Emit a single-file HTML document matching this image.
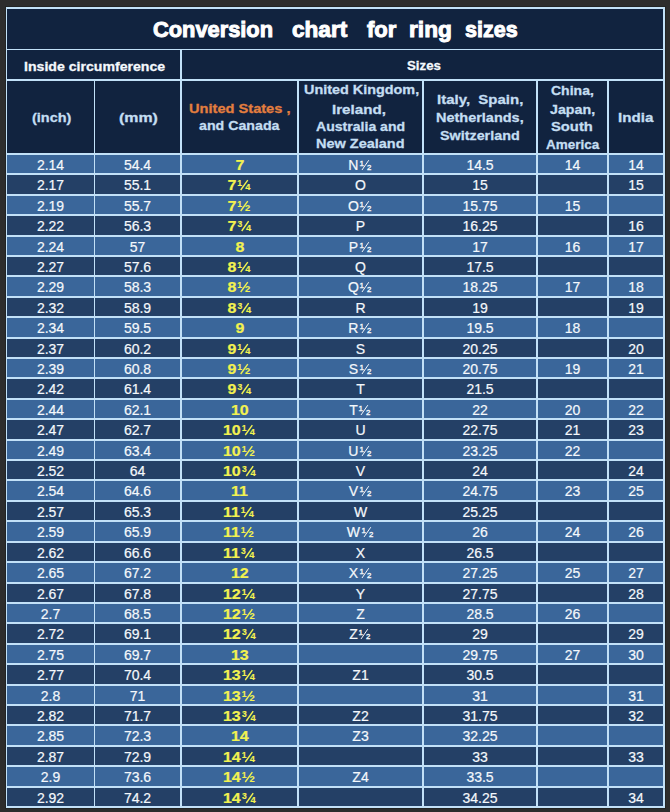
<!DOCTYPE html>
<html><head><meta charset="utf-8"><style>
html,body{margin:0;padding:0}
body{width:670px;height:812px;background:#2d2d2d;position:relative;overflow:hidden;font-family:"Liberation Sans",sans-serif}
.tb{position:absolute;left:6px;top:7px;width:659px;height:801px;background:#c2e1f8;box-shadow:0 0 0 1px #222424}
.c{position:absolute;display:flex;align-items:center;justify-content:center;text-align:center;white-space:nowrap}
.tx{position:absolute;white-space:nowrap;transform-origin:0 0;line-height:1}
.title{font-weight:bold;font-size:22.5px;color:#ffffff;-webkit-text-stroke:1.0px #ffffff}
.h2{font-weight:bold;font-size:13.5px;color:#f4f8fc;-webkit-text-stroke:0.3px #f4f8fc}
.h3{font-weight:bold;font-size:13.5px;color:#c4def2;-webkit-text-stroke:0.3px #c4def2}
.h3.us{-webkit-text-stroke-color:#e37e3e}
.h3.us{color:#e37e3e}
.d{font-size:14px;color:#f4f8fc;-webkit-text-stroke:0.2px #f4f8fc;position:relative;top:0.7px;left:0px}
.d.us{font-weight:bold;font-size:14px;color:#f2f250;-webkit-text-stroke:0.2px #f2f250;top:0.5px;display:inline-block;transform:scaleX(1.14)}
.fr{overflow:visible;vertical-align:baseline;margin-left:1.5px;fill:#f4f8fc;stroke:#f4f8fc}
.fr.b{margin-left:1.0px;fill:#f2f250;stroke:#f2f250}
.fr text{font-family:"Liberation Sans",sans-serif;stroke-width:0.35px}
.fr.b text{stroke-width:0.15px}
</style></head><body><div class="tb"></div>
<div class="c " style="left:7.00px;top:9.00px;width:656.00px;height:40.00px;background:#11233f"></div>
<div class="c " style="left:7.00px;top:50.00px;width:173.00px;height:29.00px;background:#11233f"></div>
<div class="c " style="left:182.00px;top:50.00px;width:481.00px;height:29.00px;background:#11233f"></div>
<div class="c " style="left:7.00px;top:81.00px;width:87.00px;height:72.00px;background:#11233f"></div>
<div class="c " style="left:95.00px;top:81.00px;width:85.00px;height:72.00px;background:#11233f"></div>
<div class="c " style="left:182.00px;top:81.00px;width:115.00px;height:72.00px;background:#11233f"></div>
<div class="c " style="left:299.00px;top:81.00px;width:123.00px;height:72.00px;background:#11233f"></div>
<div class="c " style="left:424.00px;top:81.00px;width:112.00px;height:72.00px;background:#11233f"></div>
<div class="c " style="left:538.00px;top:81.00px;width:69.00px;height:72.00px;background:#11233f"></div>
<div class="c " style="left:609.00px;top:81.00px;width:54.00px;height:72.00px;background:#11233f"></div>
<div class="c " style="left:7.00px;top:155.00px;width:87.00px;height:18.00px;background:#3a669a"><span class="d ">2.14</span></div>
<div class="c " style="left:95.00px;top:155.00px;width:85.00px;height:18.00px;background:#3a669a"><span class="d ">54.4</span></div>
<div class="c " style="left:182.00px;top:155.00px;width:115.00px;height:18.00px;background:#3a669a"><span class="d us">7</span></div>
<div class="c " style="left:299.00px;top:155.00px;width:123.00px;height:18.00px;background:#3a669a"><span class="d ">N<svg class="fr" width="12.70" height="10.0" viewBox="0 0 12.7 10.0" preserveAspectRatio="none"><text x="-0.62" y="5.90" font-size="8.1" font-weight="normal">1</text><line x1="2.0" y1="10.0" x2="8.8" y2="0.20" stroke-width="1.0"/><text x="7.11" y="10.0" font-size="7.8" font-weight="normal">2</text></svg></span></div>
<div class="c " style="left:424.00px;top:155.00px;width:112.00px;height:18.00px;background:#3a669a"><span class="d ">14.5</span></div>
<div class="c " style="left:538.00px;top:155.00px;width:69.00px;height:18.00px;background:#3a669a"><span class="d ">14</span></div>
<div class="c " style="left:609.00px;top:155.00px;width:54.00px;height:18.00px;background:#3a669a"><span class="d ">14</span></div>
<div class="c " style="left:7.00px;top:175.00px;width:87.00px;height:19.00px;background:#244066"><span class="d ">2.17</span></div>
<div class="c " style="left:95.00px;top:175.00px;width:85.00px;height:19.00px;background:#244066"><span class="d ">55.1</span></div>
<div class="c " style="left:182.00px;top:175.00px;width:115.00px;height:19.00px;background:#244066"><span class="d us">7<svg class="fr b" width="12.28" height="10.0" viewBox="0 0 14.0 10.0" preserveAspectRatio="none"><text x="-0.54" y="5.90" font-size="8.6" font-weight="bold">1</text><line x1="2.9" y1="10.0" x2="10.0" y2="0.10" stroke-width="1.4"/><text x="7.46" y="10.0" font-size="9.3" font-weight="bold">4</text></svg></span></div>
<div class="c " style="left:299.00px;top:175.00px;width:123.00px;height:19.00px;background:#244066"><span class="d ">O</span></div>
<div class="c " style="left:424.00px;top:175.00px;width:112.00px;height:19.00px;background:#244066"><span class="d ">15</span></div>
<div class="c " style="left:538.00px;top:175.00px;width:69.00px;height:19.00px;background:#244066"></div>
<div class="c " style="left:609.00px;top:175.00px;width:54.00px;height:19.00px;background:#244066"><span class="d ">15</span></div>
<div class="c " style="left:7.00px;top:196.00px;width:87.00px;height:18.00px;background:#3a669a"><span class="d ">2.19</span></div>
<div class="c " style="left:95.00px;top:196.00px;width:85.00px;height:18.00px;background:#3a669a"><span class="d ">55.7</span></div>
<div class="c " style="left:182.00px;top:196.00px;width:115.00px;height:18.00px;background:#3a669a"><span class="d us">7<svg class="fr b" width="12.28" height="10.0" viewBox="0 0 14.0 10.0" preserveAspectRatio="none"><text x="-0.54" y="5.90" font-size="8.6" font-weight="bold">1</text><line x1="2.9" y1="10.0" x2="10.0" y2="0.10" stroke-width="1.4"/><text x="7.28" y="10.0" font-size="9.3" font-weight="bold">2</text></svg></span></div>
<div class="c " style="left:299.00px;top:196.00px;width:123.00px;height:18.00px;background:#3a669a"><span class="d ">O<svg class="fr" width="12.70" height="10.0" viewBox="0 0 12.7 10.0" preserveAspectRatio="none"><text x="-0.62" y="5.90" font-size="8.1" font-weight="normal">1</text><line x1="2.0" y1="10.0" x2="8.8" y2="0.20" stroke-width="1.0"/><text x="7.11" y="10.0" font-size="7.8" font-weight="normal">2</text></svg></span></div>
<div class="c " style="left:424.00px;top:196.00px;width:112.00px;height:18.00px;background:#3a669a"><span class="d ">15.75</span></div>
<div class="c " style="left:538.00px;top:196.00px;width:69.00px;height:18.00px;background:#3a669a"><span class="d ">15</span></div>
<div class="c " style="left:609.00px;top:196.00px;width:54.00px;height:18.00px;background:#3a669a"></div>
<div class="c " style="left:7.00px;top:216.00px;width:87.00px;height:19.00px;background:#244066"><span class="d ">2.22</span></div>
<div class="c " style="left:95.00px;top:216.00px;width:85.00px;height:19.00px;background:#244066"><span class="d ">56.3</span></div>
<div class="c " style="left:182.00px;top:216.00px;width:115.00px;height:19.00px;background:#244066"><span class="d us">7<svg class="fr b" width="13.16" height="10.0" viewBox="0 0 15.0 10.0" preserveAspectRatio="none"><text x="-0.20" y="5.90" font-size="8.6" font-weight="bold">3</text><line x1="4.0" y1="10.0" x2="10.9" y2="0.10" stroke-width="1.4"/><text x="8.16" y="10.0" font-size="9.3" font-weight="bold">4</text></svg></span></div>
<div class="c " style="left:299.00px;top:216.00px;width:123.00px;height:19.00px;background:#244066"><span class="d ">P</span></div>
<div class="c " style="left:424.00px;top:216.00px;width:112.00px;height:19.00px;background:#244066"><span class="d ">16.25</span></div>
<div class="c " style="left:538.00px;top:216.00px;width:69.00px;height:19.00px;background:#244066"></div>
<div class="c " style="left:609.00px;top:216.00px;width:54.00px;height:19.00px;background:#244066"><span class="d ">16</span></div>
<div class="c " style="left:7.00px;top:237.00px;width:87.00px;height:18.00px;background:#3a669a"><span class="d ">2.24</span></div>
<div class="c " style="left:95.00px;top:237.00px;width:85.00px;height:18.00px;background:#3a669a"><span class="d ">57</span></div>
<div class="c " style="left:182.00px;top:237.00px;width:115.00px;height:18.00px;background:#3a669a"><span class="d us">8</span></div>
<div class="c " style="left:299.00px;top:237.00px;width:123.00px;height:18.00px;background:#3a669a"><span class="d ">P<svg class="fr" width="12.70" height="10.0" viewBox="0 0 12.7 10.0" preserveAspectRatio="none"><text x="-0.62" y="5.90" font-size="8.1" font-weight="normal">1</text><line x1="2.0" y1="10.0" x2="8.8" y2="0.20" stroke-width="1.0"/><text x="7.11" y="10.0" font-size="7.8" font-weight="normal">2</text></svg></span></div>
<div class="c " style="left:424.00px;top:237.00px;width:112.00px;height:18.00px;background:#3a669a"><span class="d ">17</span></div>
<div class="c " style="left:538.00px;top:237.00px;width:69.00px;height:18.00px;background:#3a669a"><span class="d ">16</span></div>
<div class="c " style="left:609.00px;top:237.00px;width:54.00px;height:18.00px;background:#3a669a"><span class="d ">17</span></div>
<div class="c " style="left:7.00px;top:257.00px;width:87.00px;height:18.00px;background:#244066"><span class="d ">2.27</span></div>
<div class="c " style="left:95.00px;top:257.00px;width:85.00px;height:18.00px;background:#244066"><span class="d ">57.6</span></div>
<div class="c " style="left:182.00px;top:257.00px;width:115.00px;height:18.00px;background:#244066"><span class="d us">8<svg class="fr b" width="12.28" height="10.0" viewBox="0 0 14.0 10.0" preserveAspectRatio="none"><text x="-0.54" y="5.90" font-size="8.6" font-weight="bold">1</text><line x1="2.9" y1="10.0" x2="10.0" y2="0.10" stroke-width="1.4"/><text x="7.46" y="10.0" font-size="9.3" font-weight="bold">4</text></svg></span></div>
<div class="c " style="left:299.00px;top:257.00px;width:123.00px;height:18.00px;background:#244066"><span class="d ">Q</span></div>
<div class="c " style="left:424.00px;top:257.00px;width:112.00px;height:18.00px;background:#244066"><span class="d ">17.5</span></div>
<div class="c " style="left:538.00px;top:257.00px;width:69.00px;height:18.00px;background:#244066"></div>
<div class="c " style="left:609.00px;top:257.00px;width:54.00px;height:18.00px;background:#244066"></div>
<div class="c " style="left:7.00px;top:277.00px;width:87.00px;height:19.00px;background:#3a669a"><span class="d ">2.29</span></div>
<div class="c " style="left:95.00px;top:277.00px;width:85.00px;height:19.00px;background:#3a669a"><span class="d ">58.3</span></div>
<div class="c " style="left:182.00px;top:277.00px;width:115.00px;height:19.00px;background:#3a669a"><span class="d us">8<svg class="fr b" width="12.28" height="10.0" viewBox="0 0 14.0 10.0" preserveAspectRatio="none"><text x="-0.54" y="5.90" font-size="8.6" font-weight="bold">1</text><line x1="2.9" y1="10.0" x2="10.0" y2="0.10" stroke-width="1.4"/><text x="7.28" y="10.0" font-size="9.3" font-weight="bold">2</text></svg></span></div>
<div class="c " style="left:299.00px;top:277.00px;width:123.00px;height:19.00px;background:#3a669a"><span class="d ">Q<svg class="fr" width="12.70" height="10.0" viewBox="0 0 12.7 10.0" preserveAspectRatio="none"><text x="-0.62" y="5.90" font-size="8.1" font-weight="normal">1</text><line x1="2.0" y1="10.0" x2="8.8" y2="0.20" stroke-width="1.0"/><text x="7.11" y="10.0" font-size="7.8" font-weight="normal">2</text></svg></span></div>
<div class="c " style="left:424.00px;top:277.00px;width:112.00px;height:19.00px;background:#3a669a"><span class="d ">18.25</span></div>
<div class="c " style="left:538.00px;top:277.00px;width:69.00px;height:19.00px;background:#3a669a"><span class="d ">17</span></div>
<div class="c " style="left:609.00px;top:277.00px;width:54.00px;height:19.00px;background:#3a669a"><span class="d ">18</span></div>
<div class="c " style="left:7.00px;top:298.00px;width:87.00px;height:18.00px;background:#244066"><span class="d ">2.32</span></div>
<div class="c " style="left:95.00px;top:298.00px;width:85.00px;height:18.00px;background:#244066"><span class="d ">58.9</span></div>
<div class="c " style="left:182.00px;top:298.00px;width:115.00px;height:18.00px;background:#244066"><span class="d us">8<svg class="fr b" width="13.16" height="10.0" viewBox="0 0 15.0 10.0" preserveAspectRatio="none"><text x="-0.20" y="5.90" font-size="8.6" font-weight="bold">3</text><line x1="4.0" y1="10.0" x2="10.9" y2="0.10" stroke-width="1.4"/><text x="8.16" y="10.0" font-size="9.3" font-weight="bold">4</text></svg></span></div>
<div class="c " style="left:299.00px;top:298.00px;width:123.00px;height:18.00px;background:#244066"><span class="d ">R</span></div>
<div class="c " style="left:424.00px;top:298.00px;width:112.00px;height:18.00px;background:#244066"><span class="d ">19</span></div>
<div class="c " style="left:538.00px;top:298.00px;width:69.00px;height:18.00px;background:#244066"></div>
<div class="c " style="left:609.00px;top:298.00px;width:54.00px;height:18.00px;background:#244066"><span class="d ">19</span></div>
<div class="c " style="left:7.00px;top:318.00px;width:87.00px;height:19.00px;background:#3a669a"><span class="d ">2.34</span></div>
<div class="c " style="left:95.00px;top:318.00px;width:85.00px;height:19.00px;background:#3a669a"><span class="d ">59.5</span></div>
<div class="c " style="left:182.00px;top:318.00px;width:115.00px;height:19.00px;background:#3a669a"><span class="d us">9</span></div>
<div class="c " style="left:299.00px;top:318.00px;width:123.00px;height:19.00px;background:#3a669a"><span class="d ">R<svg class="fr" width="12.70" height="10.0" viewBox="0 0 12.7 10.0" preserveAspectRatio="none"><text x="-0.62" y="5.90" font-size="8.1" font-weight="normal">1</text><line x1="2.0" y1="10.0" x2="8.8" y2="0.20" stroke-width="1.0"/><text x="7.11" y="10.0" font-size="7.8" font-weight="normal">2</text></svg></span></div>
<div class="c " style="left:424.00px;top:318.00px;width:112.00px;height:19.00px;background:#3a669a"><span class="d ">19.5</span></div>
<div class="c " style="left:538.00px;top:318.00px;width:69.00px;height:19.00px;background:#3a669a"><span class="d ">18</span></div>
<div class="c " style="left:609.00px;top:318.00px;width:54.00px;height:19.00px;background:#3a669a"></div>
<div class="c " style="left:7.00px;top:339.00px;width:87.00px;height:18.00px;background:#244066"><span class="d ">2.37</span></div>
<div class="c " style="left:95.00px;top:339.00px;width:85.00px;height:18.00px;background:#244066"><span class="d ">60.2</span></div>
<div class="c " style="left:182.00px;top:339.00px;width:115.00px;height:18.00px;background:#244066"><span class="d us">9<svg class="fr b" width="12.28" height="10.0" viewBox="0 0 14.0 10.0" preserveAspectRatio="none"><text x="-0.54" y="5.90" font-size="8.6" font-weight="bold">1</text><line x1="2.9" y1="10.0" x2="10.0" y2="0.10" stroke-width="1.4"/><text x="7.46" y="10.0" font-size="9.3" font-weight="bold">4</text></svg></span></div>
<div class="c " style="left:299.00px;top:339.00px;width:123.00px;height:18.00px;background:#244066"><span class="d ">S</span></div>
<div class="c " style="left:424.00px;top:339.00px;width:112.00px;height:18.00px;background:#244066"><span class="d ">20.25</span></div>
<div class="c " style="left:538.00px;top:339.00px;width:69.00px;height:18.00px;background:#244066"></div>
<div class="c " style="left:609.00px;top:339.00px;width:54.00px;height:18.00px;background:#244066"><span class="d ">20</span></div>
<div class="c " style="left:7.00px;top:359.00px;width:87.00px;height:18.00px;background:#3a669a"><span class="d ">2.39</span></div>
<div class="c " style="left:95.00px;top:359.00px;width:85.00px;height:18.00px;background:#3a669a"><span class="d ">60.8</span></div>
<div class="c " style="left:182.00px;top:359.00px;width:115.00px;height:18.00px;background:#3a669a"><span class="d us">9<svg class="fr b" width="12.28" height="10.0" viewBox="0 0 14.0 10.0" preserveAspectRatio="none"><text x="-0.54" y="5.90" font-size="8.6" font-weight="bold">1</text><line x1="2.9" y1="10.0" x2="10.0" y2="0.10" stroke-width="1.4"/><text x="7.28" y="10.0" font-size="9.3" font-weight="bold">2</text></svg></span></div>
<div class="c " style="left:299.00px;top:359.00px;width:123.00px;height:18.00px;background:#3a669a"><span class="d ">S<svg class="fr" width="12.70" height="10.0" viewBox="0 0 12.7 10.0" preserveAspectRatio="none"><text x="-0.62" y="5.90" font-size="8.1" font-weight="normal">1</text><line x1="2.0" y1="10.0" x2="8.8" y2="0.20" stroke-width="1.0"/><text x="7.11" y="10.0" font-size="7.8" font-weight="normal">2</text></svg></span></div>
<div class="c " style="left:424.00px;top:359.00px;width:112.00px;height:18.00px;background:#3a669a"><span class="d ">20.75</span></div>
<div class="c " style="left:538.00px;top:359.00px;width:69.00px;height:18.00px;background:#3a669a"><span class="d ">19</span></div>
<div class="c " style="left:609.00px;top:359.00px;width:54.00px;height:18.00px;background:#3a669a"><span class="d ">21</span></div>
<div class="c " style="left:7.00px;top:379.00px;width:87.00px;height:19.00px;background:#244066"><span class="d ">2.42</span></div>
<div class="c " style="left:95.00px;top:379.00px;width:85.00px;height:19.00px;background:#244066"><span class="d ">61.4</span></div>
<div class="c " style="left:182.00px;top:379.00px;width:115.00px;height:19.00px;background:#244066"><span class="d us">9<svg class="fr b" width="13.16" height="10.0" viewBox="0 0 15.0 10.0" preserveAspectRatio="none"><text x="-0.20" y="5.90" font-size="8.6" font-weight="bold">3</text><line x1="4.0" y1="10.0" x2="10.9" y2="0.10" stroke-width="1.4"/><text x="8.16" y="10.0" font-size="9.3" font-weight="bold">4</text></svg></span></div>
<div class="c " style="left:299.00px;top:379.00px;width:123.00px;height:19.00px;background:#244066"><span class="d ">T</span></div>
<div class="c " style="left:424.00px;top:379.00px;width:112.00px;height:19.00px;background:#244066"><span class="d ">21.5</span></div>
<div class="c " style="left:538.00px;top:379.00px;width:69.00px;height:19.00px;background:#244066"></div>
<div class="c " style="left:609.00px;top:379.00px;width:54.00px;height:19.00px;background:#244066"></div>
<div class="c " style="left:7.00px;top:400.00px;width:87.00px;height:18.00px;background:#3a669a"><span class="d ">2.44</span></div>
<div class="c " style="left:95.00px;top:400.00px;width:85.00px;height:18.00px;background:#3a669a"><span class="d ">62.1</span></div>
<div class="c " style="left:182.00px;top:400.00px;width:115.00px;height:18.00px;background:#3a669a"><span class="d us">10</span></div>
<div class="c " style="left:299.00px;top:400.00px;width:123.00px;height:18.00px;background:#3a669a"><span class="d ">T<svg class="fr" width="12.70" height="10.0" viewBox="0 0 12.7 10.0" preserveAspectRatio="none"><text x="-0.62" y="5.90" font-size="8.1" font-weight="normal">1</text><line x1="2.0" y1="10.0" x2="8.8" y2="0.20" stroke-width="1.0"/><text x="7.11" y="10.0" font-size="7.8" font-weight="normal">2</text></svg></span></div>
<div class="c " style="left:424.00px;top:400.00px;width:112.00px;height:18.00px;background:#3a669a"><span class="d ">22</span></div>
<div class="c " style="left:538.00px;top:400.00px;width:69.00px;height:18.00px;background:#3a669a"><span class="d ">20</span></div>
<div class="c " style="left:609.00px;top:400.00px;width:54.00px;height:18.00px;background:#3a669a"><span class="d ">22</span></div>
<div class="c " style="left:7.00px;top:420.00px;width:87.00px;height:19.00px;background:#244066"><span class="d ">2.47</span></div>
<div class="c " style="left:95.00px;top:420.00px;width:85.00px;height:19.00px;background:#244066"><span class="d ">62.7</span></div>
<div class="c " style="left:182.00px;top:420.00px;width:115.00px;height:19.00px;background:#244066"><span class="d us">10<svg class="fr b" width="12.28" height="10.0" viewBox="0 0 14.0 10.0" preserveAspectRatio="none"><text x="-0.54" y="5.90" font-size="8.6" font-weight="bold">1</text><line x1="2.9" y1="10.0" x2="10.0" y2="0.10" stroke-width="1.4"/><text x="7.46" y="10.0" font-size="9.3" font-weight="bold">4</text></svg></span></div>
<div class="c " style="left:299.00px;top:420.00px;width:123.00px;height:19.00px;background:#244066"><span class="d ">U</span></div>
<div class="c " style="left:424.00px;top:420.00px;width:112.00px;height:19.00px;background:#244066"><span class="d ">22.75</span></div>
<div class="c " style="left:538.00px;top:420.00px;width:69.00px;height:19.00px;background:#244066"><span class="d ">21</span></div>
<div class="c " style="left:609.00px;top:420.00px;width:54.00px;height:19.00px;background:#244066"><span class="d ">23</span></div>
<div class="c " style="left:7.00px;top:441.00px;width:87.00px;height:18.00px;background:#3a669a"><span class="d ">2.49</span></div>
<div class="c " style="left:95.00px;top:441.00px;width:85.00px;height:18.00px;background:#3a669a"><span class="d ">63.4</span></div>
<div class="c " style="left:182.00px;top:441.00px;width:115.00px;height:18.00px;background:#3a669a"><span class="d us">10<svg class="fr b" width="12.28" height="10.0" viewBox="0 0 14.0 10.0" preserveAspectRatio="none"><text x="-0.54" y="5.90" font-size="8.6" font-weight="bold">1</text><line x1="2.9" y1="10.0" x2="10.0" y2="0.10" stroke-width="1.4"/><text x="7.28" y="10.0" font-size="9.3" font-weight="bold">2</text></svg></span></div>
<div class="c " style="left:299.00px;top:441.00px;width:123.00px;height:18.00px;background:#3a669a"><span class="d ">U<svg class="fr" width="12.70" height="10.0" viewBox="0 0 12.7 10.0" preserveAspectRatio="none"><text x="-0.62" y="5.90" font-size="8.1" font-weight="normal">1</text><line x1="2.0" y1="10.0" x2="8.8" y2="0.20" stroke-width="1.0"/><text x="7.11" y="10.0" font-size="7.8" font-weight="normal">2</text></svg></span></div>
<div class="c " style="left:424.00px;top:441.00px;width:112.00px;height:18.00px;background:#3a669a"><span class="d ">23.25</span></div>
<div class="c " style="left:538.00px;top:441.00px;width:69.00px;height:18.00px;background:#3a669a"><span class="d ">22</span></div>
<div class="c " style="left:609.00px;top:441.00px;width:54.00px;height:18.00px;background:#3a669a"></div>
<div class="c " style="left:7.00px;top:461.00px;width:87.00px;height:18.00px;background:#244066"><span class="d ">2.52</span></div>
<div class="c " style="left:95.00px;top:461.00px;width:85.00px;height:18.00px;background:#244066"><span class="d ">64</span></div>
<div class="c " style="left:182.00px;top:461.00px;width:115.00px;height:18.00px;background:#244066"><span class="d us">10<svg class="fr b" width="13.16" height="10.0" viewBox="0 0 15.0 10.0" preserveAspectRatio="none"><text x="-0.20" y="5.90" font-size="8.6" font-weight="bold">3</text><line x1="4.0" y1="10.0" x2="10.9" y2="0.10" stroke-width="1.4"/><text x="8.16" y="10.0" font-size="9.3" font-weight="bold">4</text></svg></span></div>
<div class="c " style="left:299.00px;top:461.00px;width:123.00px;height:18.00px;background:#244066"><span class="d ">V</span></div>
<div class="c " style="left:424.00px;top:461.00px;width:112.00px;height:18.00px;background:#244066"><span class="d ">24</span></div>
<div class="c " style="left:538.00px;top:461.00px;width:69.00px;height:18.00px;background:#244066"></div>
<div class="c " style="left:609.00px;top:461.00px;width:54.00px;height:18.00px;background:#244066"><span class="d ">24</span></div>
<div class="c " style="left:7.00px;top:481.00px;width:87.00px;height:19.00px;background:#3a669a"><span class="d ">2.54</span></div>
<div class="c " style="left:95.00px;top:481.00px;width:85.00px;height:19.00px;background:#3a669a"><span class="d ">64.6</span></div>
<div class="c " style="left:182.00px;top:481.00px;width:115.00px;height:19.00px;background:#3a669a"><span class="d us">11</span></div>
<div class="c " style="left:299.00px;top:481.00px;width:123.00px;height:19.00px;background:#3a669a"><span class="d ">V<svg class="fr" width="12.70" height="10.0" viewBox="0 0 12.7 10.0" preserveAspectRatio="none"><text x="-0.62" y="5.90" font-size="8.1" font-weight="normal">1</text><line x1="2.0" y1="10.0" x2="8.8" y2="0.20" stroke-width="1.0"/><text x="7.11" y="10.0" font-size="7.8" font-weight="normal">2</text></svg></span></div>
<div class="c " style="left:424.00px;top:481.00px;width:112.00px;height:19.00px;background:#3a669a"><span class="d ">24.75</span></div>
<div class="c " style="left:538.00px;top:481.00px;width:69.00px;height:19.00px;background:#3a669a"><span class="d ">23</span></div>
<div class="c " style="left:609.00px;top:481.00px;width:54.00px;height:19.00px;background:#3a669a"><span class="d ">25</span></div>
<div class="c " style="left:7.00px;top:502.00px;width:87.00px;height:18.00px;background:#244066"><span class="d ">2.57</span></div>
<div class="c " style="left:95.00px;top:502.00px;width:85.00px;height:18.00px;background:#244066"><span class="d ">65.3</span></div>
<div class="c " style="left:182.00px;top:502.00px;width:115.00px;height:18.00px;background:#244066"><span class="d us">11<svg class="fr b" width="12.28" height="10.0" viewBox="0 0 14.0 10.0" preserveAspectRatio="none"><text x="-0.54" y="5.90" font-size="8.6" font-weight="bold">1</text><line x1="2.9" y1="10.0" x2="10.0" y2="0.10" stroke-width="1.4"/><text x="7.46" y="10.0" font-size="9.3" font-weight="bold">4</text></svg></span></div>
<div class="c " style="left:299.00px;top:502.00px;width:123.00px;height:18.00px;background:#244066"><span class="d ">W</span></div>
<div class="c " style="left:424.00px;top:502.00px;width:112.00px;height:18.00px;background:#244066"><span class="d ">25.25</span></div>
<div class="c " style="left:538.00px;top:502.00px;width:69.00px;height:18.00px;background:#244066"></div>
<div class="c " style="left:609.00px;top:502.00px;width:54.00px;height:18.00px;background:#244066"></div>
<div class="c " style="left:7.00px;top:522.00px;width:87.00px;height:19.00px;background:#3a669a"><span class="d ">2.59</span></div>
<div class="c " style="left:95.00px;top:522.00px;width:85.00px;height:19.00px;background:#3a669a"><span class="d ">65.9</span></div>
<div class="c " style="left:182.00px;top:522.00px;width:115.00px;height:19.00px;background:#3a669a"><span class="d us">11<svg class="fr b" width="12.28" height="10.0" viewBox="0 0 14.0 10.0" preserveAspectRatio="none"><text x="-0.54" y="5.90" font-size="8.6" font-weight="bold">1</text><line x1="2.9" y1="10.0" x2="10.0" y2="0.10" stroke-width="1.4"/><text x="7.28" y="10.0" font-size="9.3" font-weight="bold">2</text></svg></span></div>
<div class="c " style="left:299.00px;top:522.00px;width:123.00px;height:19.00px;background:#3a669a"><span class="d ">W<svg class="fr" width="12.70" height="10.0" viewBox="0 0 12.7 10.0" preserveAspectRatio="none"><text x="-0.62" y="5.90" font-size="8.1" font-weight="normal">1</text><line x1="2.0" y1="10.0" x2="8.8" y2="0.20" stroke-width="1.0"/><text x="7.11" y="10.0" font-size="7.8" font-weight="normal">2</text></svg></span></div>
<div class="c " style="left:424.00px;top:522.00px;width:112.00px;height:19.00px;background:#3a669a"><span class="d ">26</span></div>
<div class="c " style="left:538.00px;top:522.00px;width:69.00px;height:19.00px;background:#3a669a"><span class="d ">24</span></div>
<div class="c " style="left:609.00px;top:522.00px;width:54.00px;height:19.00px;background:#3a669a"><span class="d ">26</span></div>
<div class="c " style="left:7.00px;top:543.00px;width:87.00px;height:18.00px;background:#244066"><span class="d ">2.62</span></div>
<div class="c " style="left:95.00px;top:543.00px;width:85.00px;height:18.00px;background:#244066"><span class="d ">66.6</span></div>
<div class="c " style="left:182.00px;top:543.00px;width:115.00px;height:18.00px;background:#244066"><span class="d us">11<svg class="fr b" width="13.16" height="10.0" viewBox="0 0 15.0 10.0" preserveAspectRatio="none"><text x="-0.20" y="5.90" font-size="8.6" font-weight="bold">3</text><line x1="4.0" y1="10.0" x2="10.9" y2="0.10" stroke-width="1.4"/><text x="8.16" y="10.0" font-size="9.3" font-weight="bold">4</text></svg></span></div>
<div class="c " style="left:299.00px;top:543.00px;width:123.00px;height:18.00px;background:#244066"><span class="d ">X</span></div>
<div class="c " style="left:424.00px;top:543.00px;width:112.00px;height:18.00px;background:#244066"><span class="d ">26.5</span></div>
<div class="c " style="left:538.00px;top:543.00px;width:69.00px;height:18.00px;background:#244066"></div>
<div class="c " style="left:609.00px;top:543.00px;width:54.00px;height:18.00px;background:#244066"></div>
<div class="c " style="left:7.00px;top:563.00px;width:87.00px;height:19.00px;background:#3a669a"><span class="d ">2.65</span></div>
<div class="c " style="left:95.00px;top:563.00px;width:85.00px;height:19.00px;background:#3a669a"><span class="d ">67.2</span></div>
<div class="c " style="left:182.00px;top:563.00px;width:115.00px;height:19.00px;background:#3a669a"><span class="d us">12</span></div>
<div class="c " style="left:299.00px;top:563.00px;width:123.00px;height:19.00px;background:#3a669a"><span class="d ">X<svg class="fr" width="12.70" height="10.0" viewBox="0 0 12.7 10.0" preserveAspectRatio="none"><text x="-0.62" y="5.90" font-size="8.1" font-weight="normal">1</text><line x1="2.0" y1="10.0" x2="8.8" y2="0.20" stroke-width="1.0"/><text x="7.11" y="10.0" font-size="7.8" font-weight="normal">2</text></svg></span></div>
<div class="c " style="left:424.00px;top:563.00px;width:112.00px;height:19.00px;background:#3a669a"><span class="d ">27.25</span></div>
<div class="c " style="left:538.00px;top:563.00px;width:69.00px;height:19.00px;background:#3a669a"><span class="d ">25</span></div>
<div class="c " style="left:609.00px;top:563.00px;width:54.00px;height:19.00px;background:#3a669a"><span class="d ">27</span></div>
<div class="c " style="left:7.00px;top:584.00px;width:87.00px;height:18.00px;background:#244066"><span class="d ">2.67</span></div>
<div class="c " style="left:95.00px;top:584.00px;width:85.00px;height:18.00px;background:#244066"><span class="d ">67.8</span></div>
<div class="c " style="left:182.00px;top:584.00px;width:115.00px;height:18.00px;background:#244066"><span class="d us">12<svg class="fr b" width="12.28" height="10.0" viewBox="0 0 14.0 10.0" preserveAspectRatio="none"><text x="-0.54" y="5.90" font-size="8.6" font-weight="bold">1</text><line x1="2.9" y1="10.0" x2="10.0" y2="0.10" stroke-width="1.4"/><text x="7.46" y="10.0" font-size="9.3" font-weight="bold">4</text></svg></span></div>
<div class="c " style="left:299.00px;top:584.00px;width:123.00px;height:18.00px;background:#244066"><span class="d ">Y</span></div>
<div class="c " style="left:424.00px;top:584.00px;width:112.00px;height:18.00px;background:#244066"><span class="d ">27.75</span></div>
<div class="c " style="left:538.00px;top:584.00px;width:69.00px;height:18.00px;background:#244066"></div>
<div class="c " style="left:609.00px;top:584.00px;width:54.00px;height:18.00px;background:#244066"><span class="d ">28</span></div>
<div class="c " style="left:7.00px;top:604.00px;width:87.00px;height:18.00px;background:#3a669a"><span class="d ">2.7</span></div>
<div class="c " style="left:95.00px;top:604.00px;width:85.00px;height:18.00px;background:#3a669a"><span class="d ">68.5</span></div>
<div class="c " style="left:182.00px;top:604.00px;width:115.00px;height:18.00px;background:#3a669a"><span class="d us">12<svg class="fr b" width="12.28" height="10.0" viewBox="0 0 14.0 10.0" preserveAspectRatio="none"><text x="-0.54" y="5.90" font-size="8.6" font-weight="bold">1</text><line x1="2.9" y1="10.0" x2="10.0" y2="0.10" stroke-width="1.4"/><text x="7.28" y="10.0" font-size="9.3" font-weight="bold">2</text></svg></span></div>
<div class="c " style="left:299.00px;top:604.00px;width:123.00px;height:18.00px;background:#3a669a"><span class="d ">Z</span></div>
<div class="c " style="left:424.00px;top:604.00px;width:112.00px;height:18.00px;background:#3a669a"><span class="d ">28.5</span></div>
<div class="c " style="left:538.00px;top:604.00px;width:69.00px;height:18.00px;background:#3a669a"><span class="d ">26</span></div>
<div class="c " style="left:609.00px;top:604.00px;width:54.00px;height:18.00px;background:#3a669a"></div>
<div class="c " style="left:7.00px;top:624.00px;width:87.00px;height:19.00px;background:#244066"><span class="d ">2.72</span></div>
<div class="c " style="left:95.00px;top:624.00px;width:85.00px;height:19.00px;background:#244066"><span class="d ">69.1</span></div>
<div class="c " style="left:182.00px;top:624.00px;width:115.00px;height:19.00px;background:#244066"><span class="d us">12<svg class="fr b" width="13.16" height="10.0" viewBox="0 0 15.0 10.0" preserveAspectRatio="none"><text x="-0.20" y="5.90" font-size="8.6" font-weight="bold">3</text><line x1="4.0" y1="10.0" x2="10.9" y2="0.10" stroke-width="1.4"/><text x="8.16" y="10.0" font-size="9.3" font-weight="bold">4</text></svg></span></div>
<div class="c " style="left:299.00px;top:624.00px;width:123.00px;height:19.00px;background:#244066"><span class="d ">Z<svg class="fr" width="12.70" height="10.0" viewBox="0 0 12.7 10.0" preserveAspectRatio="none"><text x="-0.62" y="5.90" font-size="8.1" font-weight="normal">1</text><line x1="2.0" y1="10.0" x2="8.8" y2="0.20" stroke-width="1.0"/><text x="7.11" y="10.0" font-size="7.8" font-weight="normal">2</text></svg></span></div>
<div class="c " style="left:424.00px;top:624.00px;width:112.00px;height:19.00px;background:#244066"><span class="d ">29</span></div>
<div class="c " style="left:538.00px;top:624.00px;width:69.00px;height:19.00px;background:#244066"></div>
<div class="c " style="left:609.00px;top:624.00px;width:54.00px;height:19.00px;background:#244066"><span class="d ">29</span></div>
<div class="c " style="left:7.00px;top:645.00px;width:87.00px;height:18.00px;background:#3a669a"><span class="d ">2.75</span></div>
<div class="c " style="left:95.00px;top:645.00px;width:85.00px;height:18.00px;background:#3a669a"><span class="d ">69.7</span></div>
<div class="c " style="left:182.00px;top:645.00px;width:115.00px;height:18.00px;background:#3a669a"><span class="d us">13</span></div>
<div class="c " style="left:299.00px;top:645.00px;width:123.00px;height:18.00px;background:#3a669a"></div>
<div class="c " style="left:424.00px;top:645.00px;width:112.00px;height:18.00px;background:#3a669a"><span class="d ">29.75</span></div>
<div class="c " style="left:538.00px;top:645.00px;width:69.00px;height:18.00px;background:#3a669a"><span class="d ">27</span></div>
<div class="c " style="left:609.00px;top:645.00px;width:54.00px;height:18.00px;background:#3a669a"><span class="d ">30</span></div>
<div class="c " style="left:7.00px;top:665.00px;width:87.00px;height:19.00px;background:#244066"><span class="d ">2.77</span></div>
<div class="c " style="left:95.00px;top:665.00px;width:85.00px;height:19.00px;background:#244066"><span class="d ">70.4</span></div>
<div class="c " style="left:182.00px;top:665.00px;width:115.00px;height:19.00px;background:#244066"><span class="d us">13<svg class="fr b" width="12.28" height="10.0" viewBox="0 0 14.0 10.0" preserveAspectRatio="none"><text x="-0.54" y="5.90" font-size="8.6" font-weight="bold">1</text><line x1="2.9" y1="10.0" x2="10.0" y2="0.10" stroke-width="1.4"/><text x="7.46" y="10.0" font-size="9.3" font-weight="bold">4</text></svg></span></div>
<div class="c " style="left:299.00px;top:665.00px;width:123.00px;height:19.00px;background:#244066"><span class="d ">Z1</span></div>
<div class="c " style="left:424.00px;top:665.00px;width:112.00px;height:19.00px;background:#244066"><span class="d ">30.5</span></div>
<div class="c " style="left:538.00px;top:665.00px;width:69.00px;height:19.00px;background:#244066"></div>
<div class="c " style="left:609.00px;top:665.00px;width:54.00px;height:19.00px;background:#244066"></div>
<div class="c " style="left:7.00px;top:686.00px;width:87.00px;height:18.00px;background:#3a669a"><span class="d ">2.8</span></div>
<div class="c " style="left:95.00px;top:686.00px;width:85.00px;height:18.00px;background:#3a669a"><span class="d ">71</span></div>
<div class="c " style="left:182.00px;top:686.00px;width:115.00px;height:18.00px;background:#3a669a"><span class="d us">13<svg class="fr b" width="12.28" height="10.0" viewBox="0 0 14.0 10.0" preserveAspectRatio="none"><text x="-0.54" y="5.90" font-size="8.6" font-weight="bold">1</text><line x1="2.9" y1="10.0" x2="10.0" y2="0.10" stroke-width="1.4"/><text x="7.28" y="10.0" font-size="9.3" font-weight="bold">2</text></svg></span></div>
<div class="c " style="left:299.00px;top:686.00px;width:123.00px;height:18.00px;background:#3a669a"></div>
<div class="c " style="left:424.00px;top:686.00px;width:112.00px;height:18.00px;background:#3a669a"><span class="d ">31</span></div>
<div class="c " style="left:538.00px;top:686.00px;width:69.00px;height:18.00px;background:#3a669a"></div>
<div class="c " style="left:609.00px;top:686.00px;width:54.00px;height:18.00px;background:#3a669a"><span class="d ">31</span></div>
<div class="c " style="left:7.00px;top:706.00px;width:87.00px;height:18.00px;background:#244066"><span class="d ">2.82</span></div>
<div class="c " style="left:95.00px;top:706.00px;width:85.00px;height:18.00px;background:#244066"><span class="d ">71.7</span></div>
<div class="c " style="left:182.00px;top:706.00px;width:115.00px;height:18.00px;background:#244066"><span class="d us">13<svg class="fr b" width="13.16" height="10.0" viewBox="0 0 15.0 10.0" preserveAspectRatio="none"><text x="-0.20" y="5.90" font-size="8.6" font-weight="bold">3</text><line x1="4.0" y1="10.0" x2="10.9" y2="0.10" stroke-width="1.4"/><text x="8.16" y="10.0" font-size="9.3" font-weight="bold">4</text></svg></span></div>
<div class="c " style="left:299.00px;top:706.00px;width:123.00px;height:18.00px;background:#244066"><span class="d ">Z2</span></div>
<div class="c " style="left:424.00px;top:706.00px;width:112.00px;height:18.00px;background:#244066"><span class="d ">31.75</span></div>
<div class="c " style="left:538.00px;top:706.00px;width:69.00px;height:18.00px;background:#244066"></div>
<div class="c " style="left:609.00px;top:706.00px;width:54.00px;height:18.00px;background:#244066"><span class="d ">32</span></div>
<div class="c " style="left:7.00px;top:726.00px;width:87.00px;height:19.00px;background:#3a669a"><span class="d ">2.85</span></div>
<div class="c " style="left:95.00px;top:726.00px;width:85.00px;height:19.00px;background:#3a669a"><span class="d ">72.3</span></div>
<div class="c " style="left:182.00px;top:726.00px;width:115.00px;height:19.00px;background:#3a669a"><span class="d us">14</span></div>
<div class="c " style="left:299.00px;top:726.00px;width:123.00px;height:19.00px;background:#3a669a"><span class="d ">Z3</span></div>
<div class="c " style="left:424.00px;top:726.00px;width:112.00px;height:19.00px;background:#3a669a"><span class="d ">32.25</span></div>
<div class="c " style="left:538.00px;top:726.00px;width:69.00px;height:19.00px;background:#3a669a"></div>
<div class="c " style="left:609.00px;top:726.00px;width:54.00px;height:19.00px;background:#3a669a"></div>
<div class="c " style="left:7.00px;top:747.00px;width:87.00px;height:18.00px;background:#244066"><span class="d ">2.87</span></div>
<div class="c " style="left:95.00px;top:747.00px;width:85.00px;height:18.00px;background:#244066"><span class="d ">72.9</span></div>
<div class="c " style="left:182.00px;top:747.00px;width:115.00px;height:18.00px;background:#244066"><span class="d us">14<svg class="fr b" width="12.28" height="10.0" viewBox="0 0 14.0 10.0" preserveAspectRatio="none"><text x="-0.54" y="5.90" font-size="8.6" font-weight="bold">1</text><line x1="2.9" y1="10.0" x2="10.0" y2="0.10" stroke-width="1.4"/><text x="7.46" y="10.0" font-size="9.3" font-weight="bold">4</text></svg></span></div>
<div class="c " style="left:299.00px;top:747.00px;width:123.00px;height:18.00px;background:#244066"></div>
<div class="c " style="left:424.00px;top:747.00px;width:112.00px;height:18.00px;background:#244066"><span class="d ">33</span></div>
<div class="c " style="left:538.00px;top:747.00px;width:69.00px;height:18.00px;background:#244066"></div>
<div class="c " style="left:609.00px;top:747.00px;width:54.00px;height:18.00px;background:#244066"><span class="d ">33</span></div>
<div class="c " style="left:7.00px;top:767.00px;width:87.00px;height:19.00px;background:#3a669a"><span class="d ">2.9</span></div>
<div class="c " style="left:95.00px;top:767.00px;width:85.00px;height:19.00px;background:#3a669a"><span class="d ">73.6</span></div>
<div class="c " style="left:182.00px;top:767.00px;width:115.00px;height:19.00px;background:#3a669a"><span class="d us">14<svg class="fr b" width="12.28" height="10.0" viewBox="0 0 14.0 10.0" preserveAspectRatio="none"><text x="-0.54" y="5.90" font-size="8.6" font-weight="bold">1</text><line x1="2.9" y1="10.0" x2="10.0" y2="0.10" stroke-width="1.4"/><text x="7.28" y="10.0" font-size="9.3" font-weight="bold">2</text></svg></span></div>
<div class="c " style="left:299.00px;top:767.00px;width:123.00px;height:19.00px;background:#3a669a"><span class="d ">Z4</span></div>
<div class="c " style="left:424.00px;top:767.00px;width:112.00px;height:19.00px;background:#3a669a"><span class="d ">33.5</span></div>
<div class="c " style="left:538.00px;top:767.00px;width:69.00px;height:19.00px;background:#3a669a"></div>
<div class="c " style="left:609.00px;top:767.00px;width:54.00px;height:19.00px;background:#3a669a"></div>
<div class="c " style="left:7.00px;top:788.00px;width:87.00px;height:18.00px;background:#244066"><span class="d ">2.92</span></div>
<div class="c " style="left:95.00px;top:788.00px;width:85.00px;height:18.00px;background:#244066"><span class="d ">74.2</span></div>
<div class="c " style="left:182.00px;top:788.00px;width:115.00px;height:18.00px;background:#244066"><span class="d us">14<svg class="fr b" width="13.16" height="10.0" viewBox="0 0 15.0 10.0" preserveAspectRatio="none"><text x="-0.20" y="5.90" font-size="8.6" font-weight="bold">3</text><line x1="4.0" y1="10.0" x2="10.9" y2="0.10" stroke-width="1.4"/><text x="8.16" y="10.0" font-size="9.3" font-weight="bold">4</text></svg></span></div>
<div class="c " style="left:299.00px;top:788.00px;width:123.00px;height:18.00px;background:#244066"></div>
<div class="c " style="left:424.00px;top:788.00px;width:112.00px;height:18.00px;background:#244066"><span class="d ">34.25</span></div>
<div class="c " style="left:538.00px;top:788.00px;width:69.00px;height:18.00px;background:#244066"></div>
<div class="c " style="left:609.00px;top:788.00px;width:54.00px;height:18.00px;background:#244066"><span class="d ">34</span></div>
<span class="tx title" style="left:152.96px;top:19.10px;transform:scaleX(0.9695)">Conversion</span>
<span class="tx title" style="left:292.10px;top:19.10px;transform:scaleX(1.0042)">chart</span>
<span class="tx title" style="left:366.56px;top:19.10px;transform:scaleX(0.9799)">for</span>
<span class="tx title" style="left:409.10px;top:19.10px;transform:scaleX(1.0082)">ring</span>
<span class="tx title" style="left:465.34px;top:19.10px;transform:scaleX(0.9555)">sizes</span>
<span class="tx h2" style="left:23.58px;top:59.60px;transform:scaleX(1.0452)">Inside circumference</span>
<span class="tx h2" style="left:406.57px;top:58.80px;transform:scaleX(0.9808)">Sizes</span>
<span class="tx h3" style="left:31.76px;top:111.20px;transform:scaleX(1.0717)">(inch)</span>
<span class="tx h3" style="left:118.99px;top:110.80px;transform:scaleX(1.1778)">(mm)</span>
<span class="tx h3 us" style="left:188.73px;top:101.60px;transform:scaleX(1.0824)">United States ,</span>
<span class="tx h3" style="left:199.14px;top:119.20px;transform:scaleX(1.0519)">and Canada</span>
<span class="tx h3" style="left:303.57px;top:83.40px;transform:scaleX(1.0664)">United Kingdom,</span>
<span class="tx h3" style="left:332.36px;top:102.60px;transform:scaleX(1.1214)">Ireland,</span>
<span class="tx h3" style="left:315.63px;top:119.80px;transform:scaleX(1.0423)">Australia and</span>
<span class="tx h3" style="left:315.81px;top:137.40px;transform:scaleX(1.0728)">New Zealand</span>
<span class="tx h3" style="left:436.96px;top:92.80px;transform:scaleX(1.1101)">Italy,&nbsp; Spain,</span>
<span class="tx h3" style="left:436.11px;top:111.20px;transform:scaleX(1.0720)">Netherlands,</span>
<span class="tx h3" style="left:440.11px;top:129.20px;transform:scaleX(1.0616)">Switzerland</span>
<span class="tx h3" style="left:551.36px;top:84.20px;transform:scaleX(1.0385)">China,</span>
<span class="tx h3" style="left:550.19px;top:102.60px;transform:scaleX(1.0542)">Japan,</span>
<span class="tx h3" style="left:551.26px;top:120.20px;transform:scaleX(1.0939)">South</span>
<span class="tx h3" style="left:546.20px;top:137.80px;transform:scaleX(1.0001)">America</span>
<span class="tx h3" style="left:617.78px;top:111.00px;transform:scaleX(1.1225)">India</span>
</body></html>
